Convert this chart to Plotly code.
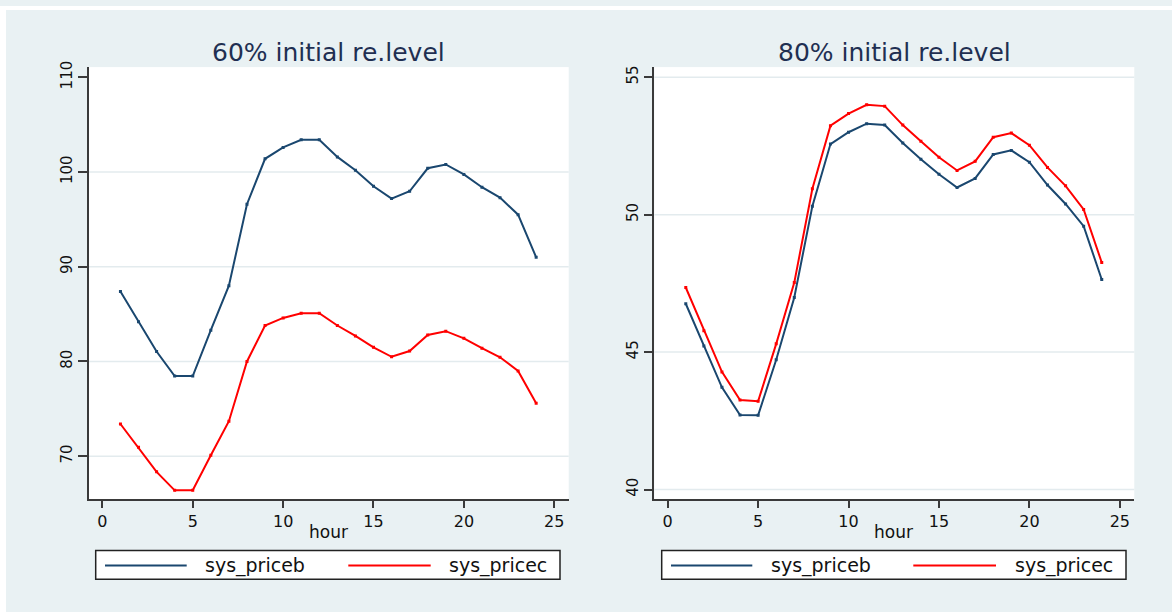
import plotly.graph_objects as go

# --- data -------------------------------------------------------------
hours = [1, 2, 3, 4, 5, 6, 7, 8, 9, 10, 11, 12,
         13, 14, 15, 16, 17, 18, 19, 20, 21, 22, 23, 24]

# 60% initial reservoir level
sys_priceb_60 = [87.40, 84.20, 81.05, 78.46, 78.46, 83.30, 88.00, 96.60,
                 101.40, 102.60, 103.40, 103.40, 101.60, 100.20, 98.50, 97.20,
                 97.97, 100.40, 100.80, 99.75, 98.40, 97.30, 95.50, 91.00]
sys_pricec_60 = [73.40, 70.94, 68.35, 66.40, 66.40, 70.10, 73.70, 80.00,
                 83.80, 84.60, 85.10, 85.10, 83.80, 82.70, 81.50, 80.50,
                 81.10, 82.80, 83.20, 82.45, 81.40, 80.45, 79.00, 75.60]

# 80% initial reservoir level
sys_priceb_80 = [46.76, 45.22, 43.72, 42.71, 42.70, 44.72, 46.99, 50.31,
                 52.57, 53.00, 53.31, 53.26, 52.61, 52.02, 51.47, 50.99,
                 51.32, 52.19, 52.34, 51.91, 51.08, 50.39, 49.58, 47.64]
sys_pricec_80 = [47.35, 45.78, 44.28, 43.26, 43.21, 45.30, 47.53, 50.94,
                 53.24, 53.68, 54.00, 53.95, 53.26, 52.67, 52.09, 51.61,
                 51.94, 52.82, 52.97, 52.53, 51.72, 51.05, 50.19, 48.26]

panel_titles = ["60% initial re.level", "80% initial re.level"]
series_names = ["sys_priceb", "sys_pricec"]
x_title = "hour"
x_ticks = [0, 5, 10, 15, 20, 25]
y_ticks_60 = [70, 80, 90, 100, 110]
y_ticks_80 = [40, 45, 50, 55]
grid_60 = [70, 80, 90, 100]
grid_80 = [40, 45, 50, 55]

# --- styling ----------------------------------------------------------
W, H = 1172, 612
BG = "#e9f1f3"
NAVY = "#1a476f"
RED = "#ff0000"
AXIS = "#3a3a3a"
GRID = "#e3ebee"
FONT = "DejaVu Sans"


def px(x):
    return x / W


def py(y):
    return 1 - y / H


fig = go.Figure()

panels = [
    dict(xa="x", ya="y", b=sys_priceb_60, c=sys_pricec_60),
    dict(xa="x2", ya="y2", b=sys_priceb_80, c=sys_pricec_80),
]
for p in panels:
    for vals, color, name in ((p["b"], NAVY, series_names[0]),
                              (p["c"], RED, series_names[1])):
        fig.add_trace(go.Scatter(
            x=hours, y=vals, name=name, mode="lines+markers",
            line=dict(color=color, width=2),
            marker=dict(symbol="square", size=3, color=color),
            xaxis=p["xa"], yaxis=p["ya"], showlegend=False,
        ))

y_dom = [py(498.3), py(61.7)]
x_dom_left = [px(89), px(568.7)]
x_dom_right = [px(654.3), px(1134.3)]

common_x = dict(
    range=[-0.74, 25.8], tickmode="array", tickvals=x_ticks,
    showline=True, linecolor=AXIS, linewidth=1.5,
    ticks="outside", ticklen=7, tickwidth=1.5, tickcolor=AXIS,
    showgrid=False, zeroline=False,
    tickfont=dict(family=FONT, size=16, color="#111111"),
)
common_y = dict(
    showline=True, linecolor=AXIS, linewidth=1.5,
    ticks="outside", ticklen=9, tickwidth=1.5, tickcolor=AXIS,
    showgrid=False, zeroline=False, tickangle=-90,
    tickfont=dict(family=FONT, size=15, color="#111111"),
)

fig.update_layout(
    width=W, height=H,
    margin=dict(l=0, r=0, t=0, b=0),
    paper_bgcolor=BG, plot_bgcolor="white",
    xaxis=dict(domain=x_dom_left, anchor="y", **common_x),
    yaxis=dict(domain=y_dom, anchor="x", range=[65.44, 111.08],
               tickmode="array", tickvals=y_ticks_60, **common_y),
    xaxis2=dict(domain=x_dom_right, anchor="y2", **common_x),
    yaxis2=dict(domain=y_dom, anchor="x2", range=[39.64, 55.37],
                tickmode="array", tickvals=y_ticks_80, **common_y),
    showlegend=False,
)

shapes = []
# thin white border at top and left edges of the graph region
shapes.append(dict(type="rect", xref="paper", yref="paper",
                   x0=0, x1=1, y0=py(4), y1=1,
                   fillcolor="white", line=dict(width=0), layer="below"))
shapes.append(dict(type="rect", xref="paper", yref="paper",
                   x0=0, x1=px(6), y0=0, y1=1,
                   fillcolor="white", line=dict(width=0), layer="below"))

# horizontal grid lines
for xr, yr, levels in (("x domain", "y", grid_60), ("x2 domain", "y2", grid_80)):
    for v in levels:
        shapes.append(dict(type="line", xref=xr, yref=yr, x0=0, x1=1,
                           y0=v, y1=v, line=dict(color=GRID, width=1.5),
                           layer="below"))

annotations = []
# panel titles
for title, xc in zip(panel_titles, (328.5, 894.0)):
    annotations.append(dict(
        text=title, xref="paper", yref="paper", x=px(xc), y=py(46.5),
        xanchor="center", yanchor="middle", showarrow=False,
        font=dict(family=FONT, size=25, color="#1f2f52"),
    ))

# x-axis titles, centred under each axis
for xr in ("x", "x2"):
    annotations.append(dict(
        text=x_title, xref=xr, yref="paper", x=12.5, y=py(531.5),
        xanchor="center", yanchor="middle", showarrow=False,
        font=dict(family=FONT, size=17, color="#111111"),
    ))

# legend boxes below each panel
legend_layout = [
    dict(box=(95.7, 560.0), lines=[(105, 186.7), (348.3, 430.7)],
         texts=[203.3, 447.3]),
    dict(box=(661.7, 1126.0), lines=[(671, 752.3), (913.3, 996)],
         texts=[769.3, 1012.7]),
]
for lg in legend_layout:
    shapes.append(dict(type="rect", xref="paper", yref="paper",
                       x0=px(lg["box"][0]), x1=px(lg["box"][1]),
                       y0=py(579), y1=py(550), fillcolor="white",
                       line=dict(color="#222222", width=1.5)))
    for (x0, x1), color in zip(lg["lines"], (NAVY, RED)):
        shapes.append(dict(type="line", xref="paper", yref="paper",
                           x0=px(x0), x1=px(x1), y0=py(565), y1=py(565),
                           line=dict(color=color, width=2)))
    for xt, name in zip(lg["texts"], series_names):
        annotations.append(dict(
            text=name, xref="paper", yref="paper", x=px(xt), y=py(565),
            xanchor="left", yanchor="middle", showarrow=False,
            font=dict(family=FONT, size=19, color="#111111"),
        ))

fig.update_layout(shapes=shapes, annotations=annotations)
fig.write_html("out.html")
